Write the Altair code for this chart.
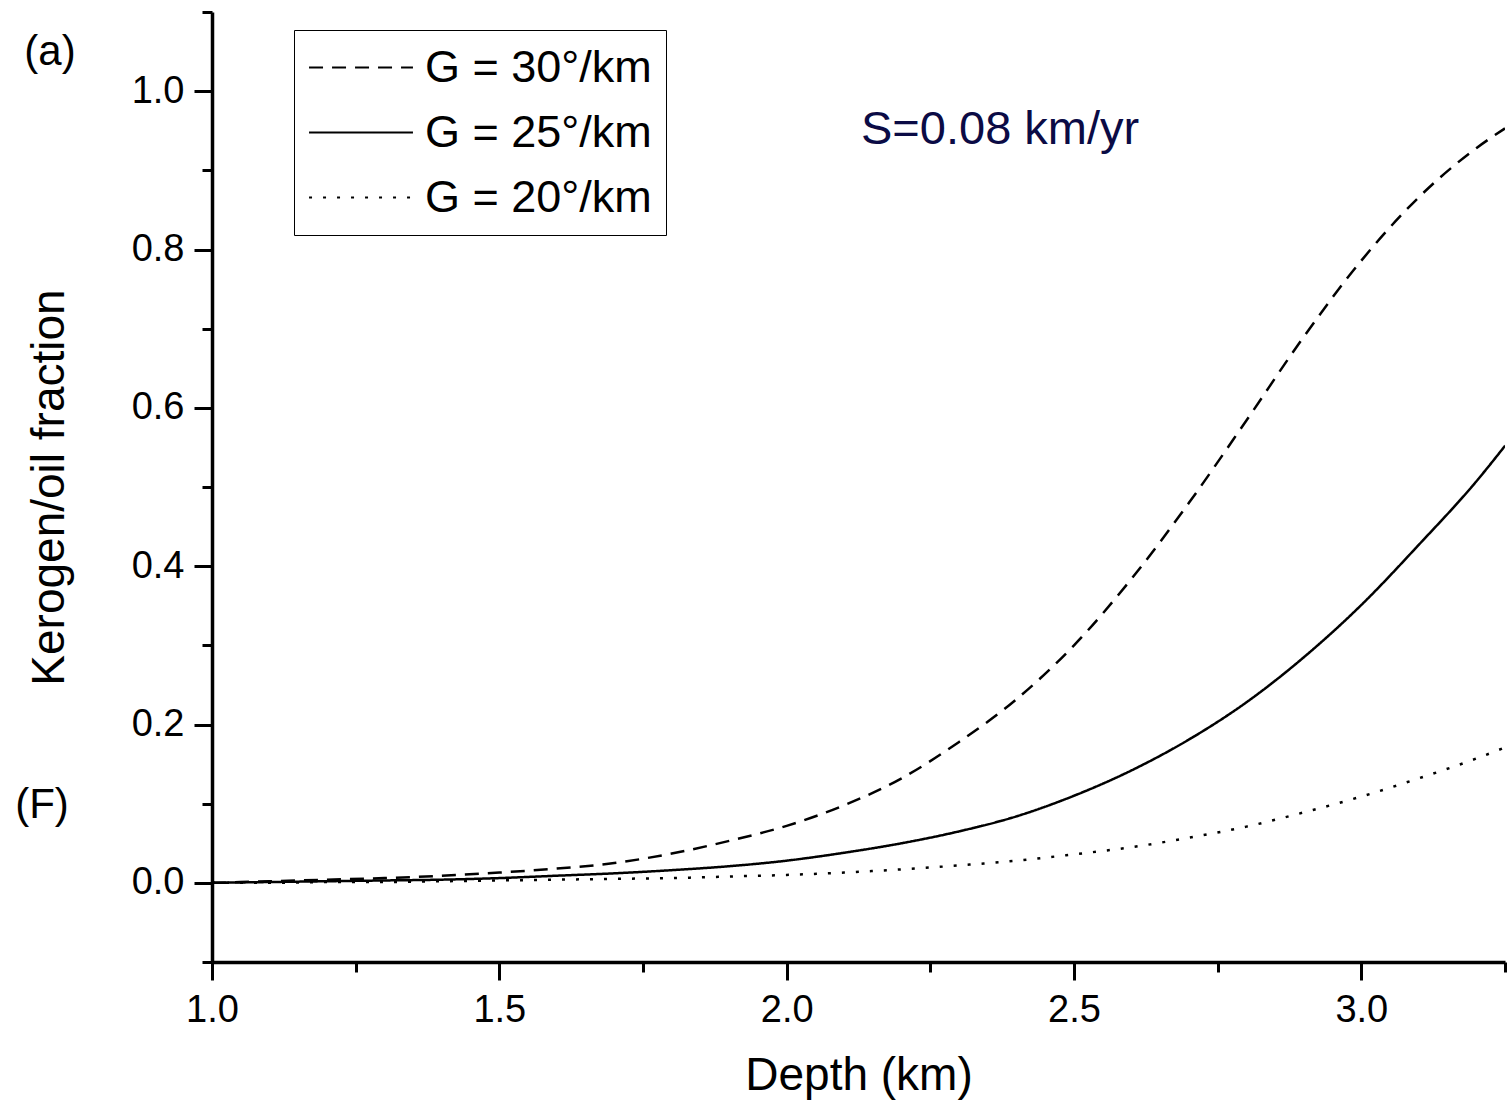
import altair as alt
import pandas as pd

# ---- data ----
depth = [1.0, 1.1, 1.2, 1.3, 1.4, 1.5, 1.6, 1.7, 1.8, 1.9, 2.0, 2.1, 2.2, 2.3,
         2.4, 2.5, 2.6, 2.7, 2.8, 2.9, 3.0, 3.1, 3.2, 3.25]
f_g30 = [0.000, 0.002, 0.004, 0.006, 0.009, 0.013, 0.018, 0.025, 0.037, 0.053,
         0.072, 0.098, 0.132, 0.178, 0.232, 0.300, 0.384, 0.480, 0.584, 0.690,
         0.786, 0.866, 0.928, 0.953]
f_g25 = [0.000, 0.001, 0.002, 0.003, 0.004, 0.006, 0.009, 0.012, 0.016, 0.021,
         0.028, 0.038, 0.050, 0.065, 0.084, 0.110, 0.142, 0.181, 0.228, 0.285,
         0.351, 0.427, 0.507, 0.552]
f_g20 = [0.000, 0.000, 0.001, 0.001, 0.002, 0.003, 0.004, 0.005, 0.006, 0.008,
         0.010, 0.013, 0.017, 0.022, 0.028, 0.036, 0.045, 0.057, 0.071, 0.089,
         0.109, 0.132, 0.157, 0.171]
series = ["G = 30°/km", "G = 25°/km", "G = 20°/km"]
dashes = [[14, 9], [1, 0], [3, 11]]

x_major = [1.0, 1.5, 2.0, 2.5, 3.0]
x_minor = [1.25, 1.75, 2.25, 2.75, 3.25]
y_major = [0.0, 0.2, 0.4, 0.6, 0.8, 1.0]
y_minor = [-0.1, 0.1, 0.3, 0.5, 0.7, 0.9, 1.1]

rows = []
for name, vals in zip(series, [f_g30, f_g25, f_g20]):
    for d, v in zip(depth, vals):
        rows.append({"depth": d, "F": v, "series": name})
df = pd.DataFrame(rows)

FONT = "Liberation Sans"
xscale = alt.Scale(domain=[1.0, 3.25], nice=False, zero=False)
yscale = alt.Scale(domain=[-0.1, 1.1], nice=False, zero=False)

axis_common = dict(domainColor="black", domainWidth=3.5, tickColor="black",
                   tickWidth=3, grid=False, labelFont=FONT, titleFont=FONT,
                   labelColor="black", titleColor="black", titleFontWeight="normal",
                   labelFontSize=38, titleFontSize=46, labelFlush=False)

lines = alt.Chart(df).mark_line(color="black", strokeWidth=2.5, interpolate="monotone",
                                clip=True).encode(
    x=alt.X("depth:Q", scale=xscale,
            axis=alt.Axis(orient="bottom", values=x_major, format=".1f", tickSize=18,
                          labelPadding=11, title="Depth (km)", titlePadding=24,
                          **axis_common)),
    y=alt.Y("F:Q", scale=yscale,
            axis=alt.Axis(orient="left", values=y_major, format=".1f", tickSize=18,
                          labelPadding=10, title="Kerogen/oil fraction", titlePadding=58,
                          titleLimit=800, **axis_common)),
    strokeDash=alt.StrokeDash(
        "series:N",
        scale=alt.Scale(domain=series, range=dashes),
        legend=alt.Legend(orient="none", legendX=82, legendY=18, title=None,
                          symbolType="stroke", symbolSize=10800, symbolStrokeWidth=2,
                          symbolStrokeColor="black", labelFont=FONT, labelFontSize=45,
                          labelColor="black", labelLimit=600, labelOffset=11,
                          clipHeight=47, rowPadding=18, padding=14, strokeColor="black",
                          fillColor="white"),
    ),
    detail="series:N",
)

minor = alt.Chart(df).mark_line(opacity=0).encode(
    x=alt.X("depth:Q", scale=xscale,
            axis=alt.Axis(orient="bottom", values=x_minor + x_major, tickSize=10,
                          labels=False, domain=False, title=None, tickColor="black",
                          tickWidth=3, grid=False)),
    y=alt.Y("F:Q", scale=yscale,
            axis=alt.Axis(orient="left", values=y_minor + y_major, tickSize=10,
                          labels=False, domain=False, title=None, tickColor="black",
                          tickWidth=3, grid=False)),
    detail="series:N",
)

ann = pd.DataFrame({"label": ["S=0.08 km/yr"]})
s_text = alt.Chart(ann).mark_text(font=FONT, fontSize=47, color="#0b0b45",
                                  align="left", baseline="middle").encode(
    x=alt.value(649), y=alt.value(118), text="label:N")

panel = pd.DataFrame({"label": ["(a)"]})
a_text = alt.Chart(panel).mark_text(font=FONT, fontSize=42, color="black",
                                    align="center", baseline="middle").encode(
    x=alt.value(-162), y=alt.value(40), text="label:N")

fl = pd.DataFrame({"label": ["(F)"]})
f_text = alt.Chart(fl).mark_text(font=FONT, fontSize=42, color="black",
                                 align="center", baseline="middle").encode(
    x=alt.value(-170), y=alt.value(793), text="label:N")

chart = alt.layer(lines, minor, s_text, a_text, f_text).resolve_axis(
    x="independent", y="independent"
).properties(
    width=1293, height=950,
    autosize=alt.AutoSizeParams(type="none"),
    padding={"left": 212, "top": 12, "right": 4, "bottom": 147},
    background="white",
).configure_view(stroke=None)

chart.save("out.html", embed_options={"renderer": "svg", "actions": False})
